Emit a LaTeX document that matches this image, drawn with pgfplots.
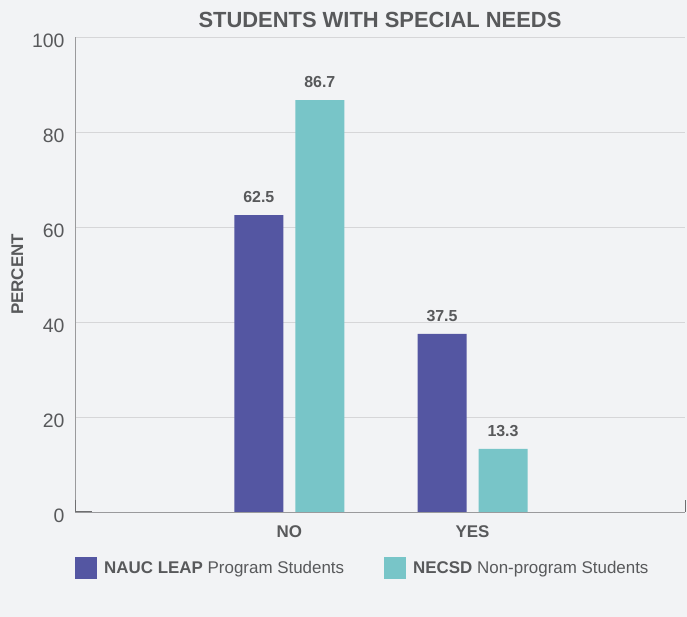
\documentclass[border=0pt]{standalone}
\usepackage{pgfplots}
\pgfplotsset{compat=1.18}
\usepackage{fontspec}
\setmainfont{Liberation Sans}
\definecolor{bgcol}{HTML}{F2F3F5}
\definecolor{txt}{HTML}{58595B}
\definecolor{purp}{HTML}{5456A2}
\definecolor{teal2}{HTML}{78C5C8}
\definecolor{gridc}{HTML}{D6D6D8}
\definecolor{axc}{HTML}{9A9A9C}
\definecolor{axd}{HTML}{6E6E70}
\begin{document}
\begin{tikzpicture}
\fill[bgcol] (0,0) rectangle (687bp,617bp);
\begin{axis}[
  name=ax,
  at={(75bp,105bp)}, anchor=south west,
  scale only axis, width=610bp, height=475bp,
  xmin=-0.17, xmax=3.16, ymin=0, ymax=100,
  ybar=12bp, bar width=49bp,
  xtick={1,2}, xticklabels={NO,YES},
  ytick={0,20,40,60,80,100},
  axis x line*=bottom, axis y line*=left,
  axis line style={axc, line width=0.9bp, -},
  major tick length=0pt,
  ymajorgrids, grid style={gridc, line width=0.8bp},
  /pgf/number format/assume math mode=true,
  yticklabel style={font=\fontsize{19.5}{20}\selectfont, text=txt, xshift=-7bp, yshift=-4bp},
  xticklabel style={font=\bfseries\fontsize{17}{20}\selectfont, text=txt, yshift=-10bp},
  ylabel={PERCENT},
  ylabel style={font=\bfseries\fontsize{17}{18}\selectfont, text=txt, yshift=2bp},
  title={STUDENTS WITH SPECIAL NEEDS},
  title style={font=\bfseries\fontsize{22}{24}\selectfont, text=txt, yshift=0bp},
  nodes near coords,
  nodes near coords style={font=\bfseries\fontsize{16}{18}\selectfont, text=txt, inner sep=0pt, yshift=12bp},
  legend style={at={(0,-0.094)}, anchor=north west, draw=none, fill=none, inner sep=0pt,
    legend columns=2, font=\fontsize{17}{20}\selectfont, text=txt,
    /tikz/every odd column/.append style={column sep=5bp},
    /tikz/every even column/.append style={column sep=38bp}},
  legend image code/.code={\fill[#1, draw=none] (0bp,-11bp) rectangle (22bp,11bp);},
]
\addplot[fill=purp, draw=none] coordinates {(1,62.5) (2,37.5)};
\addplot[fill=teal2, draw=none] coordinates {(1,86.7) (2,13.3)};
\legend{{\bfseries NAUC LEAP} Program Students, {\bfseries NECSD} Non-program Students}
\end{axis}
\draw[axd, line width=1bp] ([yshift=12bp]ax.south west) -- (ax.south west) -- ([xshift=17bp]ax.south west);
\draw[axd, line width=1bp] (ax.south east) -- ([yshift=12bp]ax.south east);
\end{tikzpicture}
\end{document}
